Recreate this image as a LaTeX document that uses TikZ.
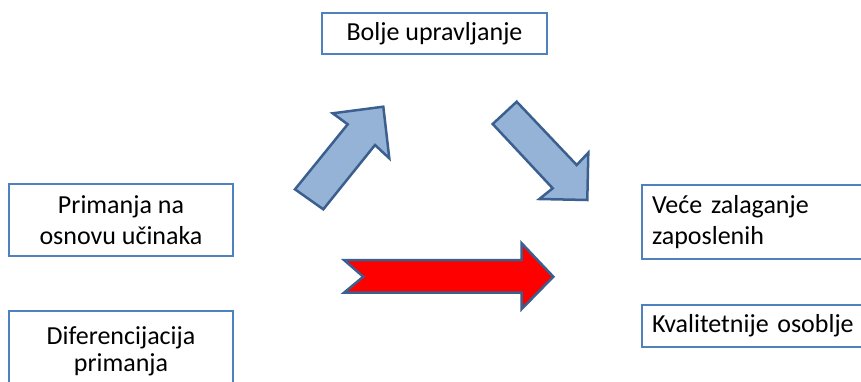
\documentclass[tikz,border=0pt]{standalone}
\usepackage{fontspec}
\setmainfont{Carlito}
\definecolor{boxblue}{HTML}{4F81BD}
\definecolor{arrfill}{HTML}{95B3D7}
\definecolor{arredge}{HTML}{3B5F8E}
\definecolor{arrred}{HTML}{FF0000}
\tikzset{
  txtbox/.style={draw=boxblue, line width=2pt, fill=white, inner sep=0pt,
    font=\fontsize{26}{31}\selectfont, align=center},
  bigarrow/.style={draw=arredge, line width=2.5pt, line join=miter, fill=arrfill},
  redarrow/.style={draw=arredge, line width=2.5pt, line join=miter, fill=arrred}
}
\begin{document}
\begin{tikzpicture}[x=1pt,y=-1pt]
\useasboundingbox (0,0) rectangle (861,381);
\clip (0,0) rectangle (861,381);
% boxes
\node[txtbox, minimum width=225pt, minimum height=41pt] (bolje) at (434.5,33.5) {Bolje upravljanje};
\node[txtbox, minimum width=224pt, minimum height=72pt] (prim) at (121,220) {Primanja na\\osnovu učinaka};
\node[txtbox, minimum width=224pt, minimum height=80pt, font=\fontsize{26}{27}\selectfont] (dif) at (121,351) {Diferencijacija\\primanja};
\node[txtbox, minimum width=240pt, minimum height=74pt, text width=220pt, align=left] (vece) at (762,222) {Veće zalaganje\\zaposlenih};
\node[txtbox, minimum width=240pt, minimum height=42pt, text width=220pt, align=left] (kval) at (762,326) {Kvalitetnije osoblje};
% arrows
\draw[bigarrow] (295,189.3) -- (347.7,124.3) -- (332.7,113.3) -- (383.3,106.7) -- (389.3,158.3) -- (375,145) -- (323.3,209.3) -- cycle;
\draw[bigarrow] (516.7,101.7) -- (576.7,165) -- (588.3,152.7) -- (587.3,200) -- (539.3,199) -- (552.7,188.3) -- (492.7,124) -- cycle;
\draw[redarrow] (344,260) -- (521.7,260) -- (521.7,243.3) -- (553.3,276.7) -- (521.7,309) -- (521.7,292.7) -- (344,292.7) -- (363.3,276.7) -- cycle;
\end{tikzpicture}
\end{document}
